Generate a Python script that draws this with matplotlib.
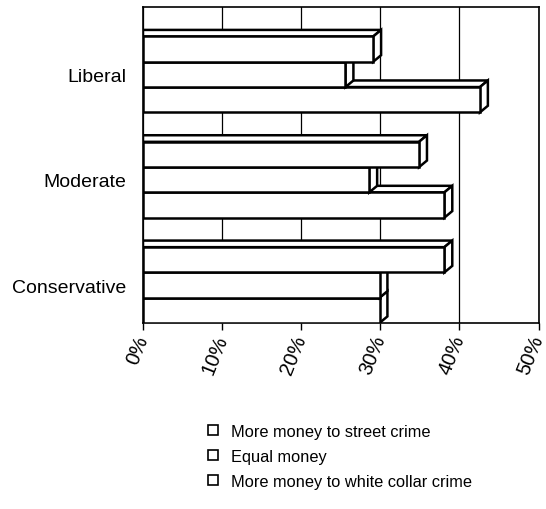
import matplotlib; matplotlib.use('Agg')
import matplotlib.pyplot as plt
from matplotlib.patches import Polygon, Rectangle, Patch

plt.rcParams['font.family'] = ['Liberation Sans', 'DejaVu Sans']

# data (percent)
groups = ['Liberal', 'Moderate', 'Conservative']
series = ['More money to street crime', 'Equal money', 'More money to white collar crime']
street = [29.1, 34.9, 38.1]
equal = [25.6, 28.6, 29.9]
white_collar = [42.6, 38.1, 29.9]
xticks = [0, 10, 20, 30, 40, 50]

fig = plt.figure(figsize=(5.46, 5.10), dpi=100)
ax = fig.add_axes([143/546, 1-324/510, (538.5-143)/546, 316/510])
ax.set_xlim(0, 50); ax.set_ylim(0, 12)

h = 0.96; dx = 1.0; dy = 0.25  # bar thickness and 3d depth
vals = [street, equal, white_collar]
z = 2.0
for g in range(len(groups)):
    base = (len(groups) - 1 - g) * 4
    for k in (2, 1, 0):  # lowest bar first so the one above covers its top face
        v = vals[k][g]
        y0 = base + (2 - k) * h; y1 = y0 + h
        kw = dict(facecolor='white', edgecolor='black', lw=1.8, joinstyle='miter', zorder=z)
        ax.add_patch(Polygon([(0, y1), (v, y1), (v+dx, y1+dy), (0, y1+dy)], **kw))
        ax.add_patch(Polygon([(v, y0), (v+dx, y0+dy), (v+dx, y1+dy), (v, y1)], **kw))
        ax.add_patch(Rectangle((0, y0), v, h, **kw))
        z += 0.1

ax.set_xticks(xticks)
ax.set_xticklabels([f'{t}%' for t in xticks], rotation=68, ha='right', va='center',
                   rotation_mode='anchor', fontsize=14.5)
ax.set_yticks([(len(groups) - 1 - g) * 4 + 1.5 * h for g in range(len(groups))])
ax.set_yticklabels(groups, fontsize=14)
ax.tick_params(axis='y', length=0, pad=12)
ax.tick_params(axis='x', length=5, width=1, pad=4)
ax.grid(axis='x', color='black', lw=0.9)
ax.set_axisbelow(True)
for s in ax.spines.values(): s.set_linewidth(1.2)

handles = [Patch(facecolor='white', edgecolor='black', lw=1.2) for _ in series]
fig.legend(handles, series, loc='upper left', bbox_to_anchor=(208/546, 1-425/510),
           frameon=False, fontsize=11.8, handlelength=0.6, handleheight=0.6,
           handletextpad=0.8, labelspacing=0.6, borderpad=0, borderaxespad=0)

fig.savefig('out.png', dpi=100)
